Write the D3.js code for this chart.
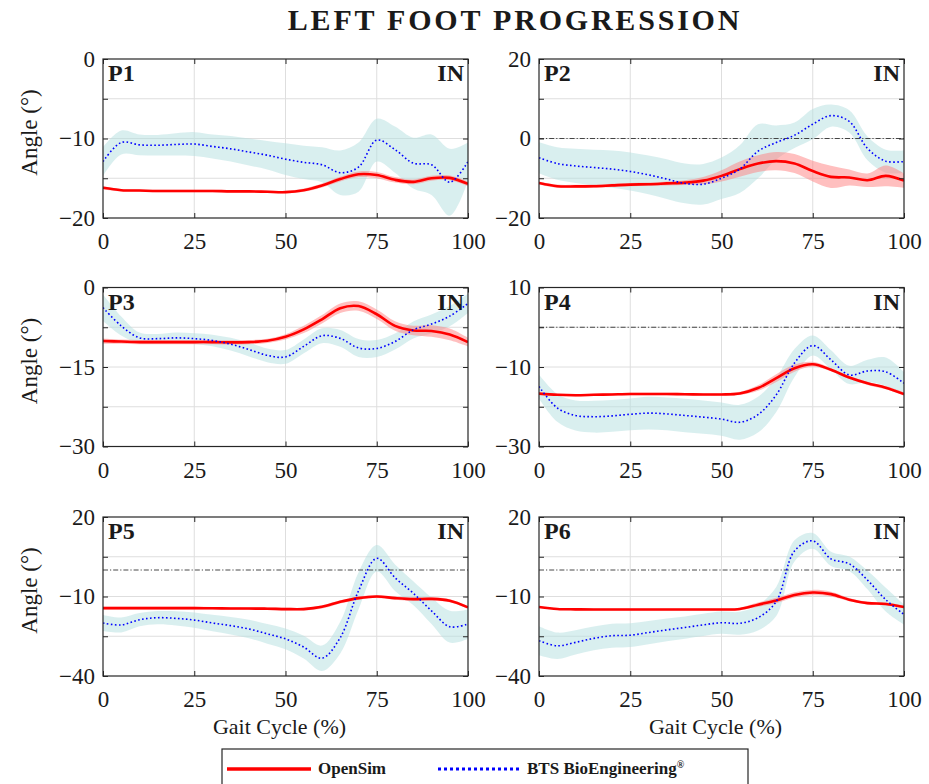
<!DOCTYPE html>
<html>
<head>
<meta charset="utf-8">
<script src="https://cdn.jsdelivr.net/npm/d3@7"></script>
<style>
  body { margin: 0; background: #fff; }
  svg text { font-family: "Liberation Serif", "Times New Roman", serif; fill: #1a1a1a; }
</style>
</head>
<body>
<div id="chart"></div>
<script>
// x 取樣點 (% gait cycle)
const gaitPct = d3.range(0, 101, 5);

const panelNames = ["P1", "P2", "P3", "P4", "P5", "P6"];
const yDomains = [[-20, 0], [-20, 20], [-30, 0], [-30, 10], [-40, 20], [-40, 20]];
const yGridSteps = [5, 10, 7.5, 10, 15, 15];
const xTickValues = [0, 25, 50, 75, 100];

// OpenSim mean / sd
const openSimMean = [
  [-16.2,-16.5,-16.55,-16.6,-16.6,-16.6,-16.6,-16.65,-16.65,-16.7,-16.75,-16.5,-15.9,-15.1,-14.5,-14.6,-15.2,-15.45,-15.0,-14.95,-15.7],
  [-11.2,-12.0,-12.05,-12.0,-11.8,-11.6,-11.5,-11.3,-11.1,-10.6,-9.4,-7.7,-6.3,-5.7,-6.3,-8.2,-9.65,-9.8,-10.5,-9.4,-10.6],
  [-10.1,-10.2,-10.3,-10.3,-10.3,-10.3,-10.3,-10.35,-10.3,-10.05,-9.3,-7.9,-6.0,-3.9,-3.5,-5.05,-7.25,-8.1,-8.2,-8.85,-10.3],
  [-16.7,-17.0,-17.1,-17.0,-16.9,-16.8,-16.8,-16.8,-16.85,-16.9,-16.9,-16.65,-15.3,-12.8,-10.3,-9.3,-10.7,-12.65,-14.1,-15.2,-16.8],
  [-14.4,-14.4,-14.4,-14.4,-14.4,-14.4,-14.45,-14.5,-14.55,-14.6,-14.75,-14.75,-13.9,-12.0,-10.6,-10.0,-10.6,-11.0,-10.9,-11.6,-14.1],
  [-13.95,-14.7,-14.85,-14.9,-14.9,-14.9,-14.9,-14.9,-14.9,-14.9,-14.9,-14.7,-13.1,-11.5,-9.4,-8.5,-9.1,-11.2,-12.5,-12.8,-13.95]
];
const openSimSd = [
  [0.2,0.15,0.15,0.15,0.15,0.15,0.15,0.15,0.15,0.15,0.15,0.2,0.25,0.3,0.35,0.4,0.35,0.3,0.3,0.3,0.3],
  [0.4,0.4,0.4,0.4,0.4,0.4,0.4,0.5,0.6,0.9,1.4,1.9,2.1,2.3,2.4,2.6,2.8,2.0,1.7,2.6,1.8],
  [0.5,0.4,0.4,0.4,0.4,0.4,0.4,0.4,0.4,0.4,0.5,0.7,0.8,0.9,0.9,0.9,0.9,0.9,1.1,1.1,0.8],
  [0.3,0.3,0.3,0.3,0.3,0.3,0.3,0.3,0.3,0.3,0.3,0.4,0.7,1.0,0.9,0.6,0.4,0.4,0.4,0.4,0.4],
  [0.5,0.5,0.5,0.5,0.5,0.5,0.5,0.5,0.5,0.5,0.5,0.5,0.6,0.6,0.6,0.6,0.6,0.6,0.6,0.6,0.5],
  [0.4,0.4,0.4,0.4,0.4,0.4,0.4,0.4,0.4,0.4,0.4,0.5,0.8,1.0,1.0,1.0,0.9,0.6,0.5,0.5,0.5]
];

// BTS BioEngineering mean / sd
const btsMean = [
  [-12.9,-10.5,-10.8,-10.85,-10.75,-10.7,-11.0,-11.3,-11.7,-12.1,-12.6,-13.0,-13.3,-14.3,-13.6,-10.2,-11.4,-13.1,-13.3,-15.5,-12.9],
  [-4.85,-6.3,-6.9,-7.3,-7.7,-8.3,-9.15,-10.2,-11.3,-11.5,-10.0,-7.7,-3.2,-1.0,0.8,3.6,5.75,4.3,-2.5,-5.7,-5.8],
  [-3.8,-7.25,-9.5,-9.65,-9.5,-9.65,-10.0,-10.7,-11.7,-12.8,-13.1,-11.1,-9.1,-9.6,-11.4,-11.5,-10.2,-8.0,-6.9,-5.4,-3.0],
  [-14.9,-20.3,-22.2,-22.5,-22.3,-21.9,-21.6,-21.8,-22.2,-22.6,-23.1,-23.9,-22.0,-17.0,-9.0,-4.6,-8.2,-12.0,-11.0,-11.2,-14.1],
  [-20.0,-20.75,-18.75,-18.0,-18.25,-18.9,-20.0,-21.0,-22.25,-24.1,-26.0,-29.1,-33.3,-25.5,-7.9,4.4,-2.9,-8.75,-15.4,-21.4,-20.4],
  [-26.7,-28.6,-27.3,-25.8,-24.8,-24.6,-23.6,-22.6,-21.7,-20.7,-19.9,-20.1,-18.0,-11.9,7.2,11.0,4.2,2.35,-3.8,-11.2,-16.8]
];
const btsSd = [
  [1.8,1.5,1.3,1.3,1.4,1.5,1.5,1.6,1.7,1.8,2.0,2.1,2.2,2.8,3.1,2.7,2.9,3.2,3.8,4.2,2.4],
  [3.9,4.1,4.3,4.5,4.7,4.8,4.9,5.0,5.0,5.1,5.2,6.0,6.8,4.3,3.2,3.8,2.8,2.8,3.0,2.9,2.8],
  [2.5,1.8,1.0,0.9,1.0,1.0,1.1,1.2,1.3,1.3,1.3,1.3,1.4,1.6,1.7,1.6,1.5,1.6,1.8,1.9,1.8],
  [3.0,3.5,3.8,4.0,4.0,4.0,4.1,4.1,4.2,4.2,4.2,4.4,4.5,4.3,3.5,2.5,2.4,2.3,2.8,3.6,2.8],
  [3.0,2.8,2.5,2.5,2.7,2.9,3.1,3.3,3.5,3.7,3.9,4.3,4.8,6.0,7.0,5.0,5.0,4.5,5.0,6.0,5.5],
  [5.5,5.0,4.6,4.5,4.5,4.5,4.4,4.3,4.2,4.2,4.2,4.3,4.8,5.5,4.0,3.0,2.7,2.7,3.5,4.5,3.8]
];

// 版面
const width = 929, height = 784;
const colX = [103, 539];
const rowY = [59, 287.5, 517];
const panelW = 365, panelH = 159;

const svg = d3.select("#chart").append("svg")
  .attr("width", width)
  .attr("height", height);

// 標題
svg.append("text")
  .attr("x", 515)
  .attr("y", 30)
  .attr("text-anchor", "middle")
  .style("font-size", "30px")
  .style("font-weight", "bold")
  .style("letter-spacing", "2.8px")
  .text("LEFT FOOT PROGRESSION");

const fmt = d3.format("");

panelNames.forEach((name, i) => {
  const col = i % 2, row = Math.floor(i / 2);
  const g = svg.append("g").attr("transform", `translate(${colX[col]},${rowY[row]})`);

  const x = d3.scaleLinear().domain([0, 100]).range([0, panelW]);
  const y = d3.scaleLinear().domain(yDomains[i]).range([panelH, 0]);
  const [lo, hi] = yDomains[i];
  const yTicks = d3.range(lo, hi + 0.001, yGridSteps[i]);

  // clip
  g.append("clipPath").attr("id", "clip" + i)
    .append("rect").attr("width", panelW).attr("height", panelH);

  // 格線
  g.append("g").selectAll("line.gy")
    .data(yTicks.slice(1, -1))
    .enter().append("line")
    .attr("x1", 0).attr("x2", panelW)
    .attr("y1", d => y(d)).attr("y2", d => y(d))
    .attr("stroke", "#dedede").attr("stroke-width", 1);
  g.append("g").selectAll("line.gx")
    .data(xTickValues.slice(1, -1))
    .enter().append("line")
    .attr("y1", 0).attr("y2", panelH)
    .attr("x1", d => x(d)).attr("x2", d => x(d))
    .attr("stroke", "#dedede").attr("stroke-width", 1);

  const plot = g.append("g").attr("clip-path", `url(#clip${i})`);

  const bts = gaitPct.map((p, k) => ({ p, m: btsMean[i][k], s: btsSd[i][k] }));
  const os = gaitPct.map((p, k) => ({ p, m: openSimMean[i][k], s: openSimSd[i][k] }));

  const band = d3.area()
    .x(d => x(d.p))
    .y0(d => y(d.m - d.s))
    .y1(d => y(d.m + d.s))
    .curve(d3.curveCatmullRom.alpha(0.5));
  const line = d3.line()
    .x(d => x(d.p))
    .y(d => y(d.m))
    .curve(d3.curveCatmullRom.alpha(0.5));

  plot.append("path").attr("d", band(bts))
    .attr("fill", "#b3e0e0").attr("fill-opacity", 0.5);
  plot.append("path").attr("d", band(os))
    .attr("fill", "#ff8080").attr("fill-opacity", 0.5);

  // 0 參考線 (dash-dot)
  if (lo < 0 && hi > 0) {
    plot.append("line")
      .attr("x1", 0).attr("x2", panelW)
      .attr("y1", y(0)).attr("y2", y(0))
      .attr("stroke", "#333").attr("stroke-width", 0.9)
      .attr("stroke-dasharray", "5,2,1.2,2");
  }

  plot.append("path").attr("d", line(os))
    .attr("fill", "none").attr("stroke", "#ff0000").attr("stroke-width", 2.6);
  plot.append("path").attr("d", line(bts))
    .attr("fill", "none").attr("stroke", "#0000ff").attr("stroke-width", 1.6)
    .attr("stroke-dasharray", "1.6,2.4");

  // 軸 (ticks inward, box)
  const yAxisL = d3.axisLeft(y).tickValues(yTicks).tickSize(-5).tickSizeOuter(0).tickPadding(8)
    .tickFormat((d, k) => k % 2 === 0 ? fmt(d) : "");
  const yAxisR = d3.axisRight(y).tickValues(yTicks).tickSize(-5).tickSizeOuter(0).tickFormat("");
  const xAxisB = d3.axisBottom(x).tickValues(xTickValues).tickSize(-5).tickSizeOuter(0).tickPadding(15)
    .tickFormat(fmt);
  const xAxisT = d3.axisTop(x).tickValues(xTickValues).tickSize(-5).tickSizeOuter(0).tickFormat("");

  const axes = [
    g.append("g").call(yAxisL),
    g.append("g").attr("transform", `translate(${panelW},0)`).call(yAxisR),
    g.append("g").attr("transform", `translate(0,${panelH})`).call(xAxisB),
    g.append("g").call(xAxisT)
  ];
  axes.forEach(a => {
    a.select(".domain").remove();
    a.selectAll(".tick line").attr("stroke", "#262626");
    a.selectAll("text").style("font-size", "23px").style("font-family", null).attr("fill", "#1a1a1a");
  });

  g.append("rect")
    .attr("width", panelW).attr("height", panelH)
    .attr("fill", "none").attr("stroke", "#262626").attr("stroke-width", 1.2);

  // 面板標籤
  g.append("text").attr("x", 5).attr("y", 22)
    .style("font-size", "24px").style("font-weight", "bold").text(name);
  g.append("text").attr("x", panelW - 4).attr("y", 22)
    .attr("text-anchor", "end")
    .style("font-size", "24px").style("font-weight", "bold").text("IN");

  if (col === 0) {
    g.append("text")
      .attr("transform", `translate(-66,${panelH / 2 - 6}) rotate(-90)`)
      .attr("text-anchor", "middle")
      .style("font-size", "23px")
      .text("Angle (°)");
  }
  if (row === 2) {
    g.append("text")
      .attr("x", panelW / 2 - 6).attr("y", panelH + 58)
      .attr("text-anchor", "middle")
      .style("font-size", "22px")
      .text("Gait Cycle (%)");
  }
});

// 圖例
const legend = svg.append("g");
legend.append("rect")
  .attr("x", 222).attr("y", 749).attr("width", 526).attr("height", 60)
  .attr("fill", "#fff").attr("stroke", "#262626").attr("stroke-width", 1.2);
legend.append("line")
  .attr("x1", 227).attr("x2", 311).attr("y1", 769).attr("y2", 769)
  .attr("stroke", "#ff0000").attr("stroke-width", 3.5);
legend.append("text").attr("x", 318).attr("y", 774)
  .style("font-size", "17px").style("font-weight", "bold").text("OpenSim");
legend.append("line")
  .attr("x1", 438).attr("x2", 522).attr("y1", 769).attr("y2", 769)
  .attr("stroke", "#0000ff").attr("stroke-width", 3)
  .attr("stroke-dasharray", "3,3");
const btsLabel = legend.append("text").attr("x", 527).attr("y", 774)
  .style("font-size", "17px").style("font-weight", "bold");
btsLabel.append("tspan").text("BTS BioEngineering");
btsLabel.append("tspan").attr("dy", -6).style("font-size", "10px").text("®");
</script>
</body>
</html>
